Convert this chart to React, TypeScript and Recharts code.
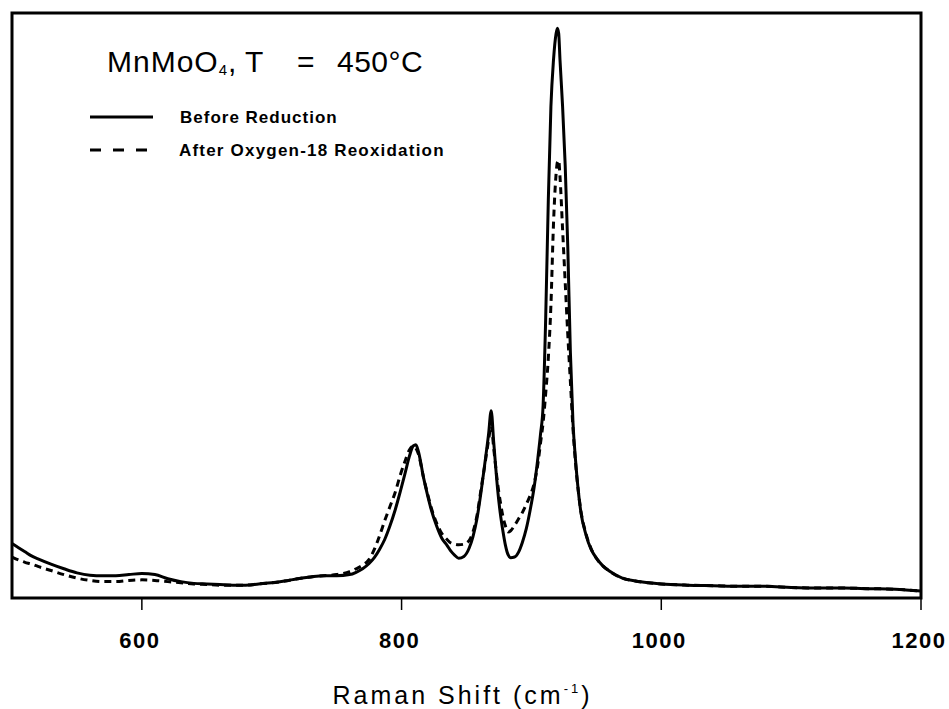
import { Line, LineChart, ReferenceArea, XAxis, YAxis } from "recharts";

// Raman shift (cm-1) sample points
const wavenumbers = [
  500, 505, 510, 515, 520, 530, 540, 550, 560, 570,
  580, 590, 600, 610, 620, 630, 640, 650, 660, 670,
  680, 690, 700, 710, 720, 730, 740, 750, 760, 765,
  770, 775, 779, 783, 787, 791, 795, 799, 803, 806,
  809, 811, 813, 817, 820, 823, 827, 831, 835, 838,
  841, 844, 848, 852, 855, 858, 861, 864, 867, 869,
  871, 874, 876, 878, 880, 882, 884, 887, 890, 893,
  896, 899, 902, 905, 907, 909, 911, 913, 915, 917,
  919, 920, 921, 922, 924, 926, 928, 930, 932, 934,
  936, 938, 942, 946, 950, 955, 960, 970, 980, 990,
  1000, 1020, 1040, 1060, 1080, 1100, 1120, 1140, 1160, 1180, 1200,
];

// intensity, arbitrary units (0 = bottom of frame, 100 = top)
const beforeReduction = [
  9.3, 8.6, 7.9, 7.2, 6.7, 5.8, 5.0, 4.3, 3.9, 3.8,
  3.8, 4.0, 4.2, 4.0, 3.3, 2.8, 2.5, 2.4, 2.3, 2.2,
  2.2, 2.4, 2.6, 2.9, 3.3, 3.6, 3.8, 3.8, 4.0, 4.4,
  5.0, 5.9, 6.9, 8.3, 10.0, 12.3, 15.0, 18.2, 21.6, 24.2,
  26.0, 26.2, 25.0, 20.5, 17.6, 15.0, 12.3, 10.2, 9.0, 8.0,
  7.3, 6.8, 7.1, 8.5, 10.5, 13.5, 17.8, 22.8, 28.0, 32.0,
  26.5, 18.5, 14.5, 11.5, 9.0, 7.4, 6.9, 7.0, 7.8, 9.5,
  11.8, 15.0, 18.8, 24.0, 28.0, 33.0, 48.0, 68.0, 84.0, 92.0,
  96.5, 97.4, 96.5, 92.0, 84.0, 74.0, 60.0, 42.0, 30.0, 23.5,
  18.5, 14.8, 10.8, 8.3, 6.8, 5.5, 4.6, 3.4, 2.9, 2.6,
  2.4, 2.2, 2.1, 2.0, 2.0, 1.8, 1.7, 1.7, 1.6, 1.5, 1.2,
];

const afterReoxidation = [
  7.0, 6.5, 6.1, 5.8, 5.4, 4.7, 4.0, 3.4, 3.0, 2.8,
  2.8, 3.0, 3.1, 3.0, 2.8, 2.6, 2.4, 2.3, 2.2, 2.2,
  2.2, 2.4, 2.6, 2.9, 3.3, 3.6, 3.8, 4.0, 4.5, 5.0,
  5.6, 6.6, 8.3, 10.6, 13.2, 15.6, 18.0, 21.0, 23.6, 25.3,
  26.0, 25.6, 24.6, 20.5, 17.8, 15.3, 12.8, 11.0, 10.0, 9.4,
  9.2, 9.1, 9.2, 9.8, 11.3, 14.0, 18.3, 22.6, 27.0, 29.5,
  25.5, 19.5, 16.5, 14.0, 12.3, 11.3, 11.5, 12.4, 13.5, 14.6,
  16.0, 17.5, 19.5, 23.0, 26.5, 30.0, 35.0, 41.0, 50.0, 64.0,
  72.5, 74.5, 74.8, 72.0, 63.0, 54.0, 45.0, 37.0, 29.0, 23.0,
  18.5, 15.0, 11.0, 8.4, 6.8, 5.5, 4.6, 3.4, 2.9, 2.6,
  2.4, 2.2, 2.1, 2.0, 2.0, 1.8, 1.7, 1.7, 1.6, 1.5, 1.2,
];

const xTicks = [600, 800, 1000, 1200];

const data = wavenumbers.map((w, i) => ({
  w,
  before: beforeReduction[i],
  after: afterReoxidation[i],
}));

const FONT = '"Liberation Sans", Arial, Helvetica, sans-serif';

function AxisTitle(props: any) {
  const vb = props.viewBox || { x: 12, y: 598, width: 909 };
  return (
    <text
      x={vb.x + vb.width / 2 - 4}
      y={vb.y + 106}
      textAnchor="middle"
      fontFamily={FONT}
      fontSize={25}
      letterSpacing={3}
      fill="#000"
    >
      Raman Shift (cm
      <tspan fontSize={13} dy={-11}>
        -1
      </tspan>
      <tspan dy={11}>)</tspan>
    </text>
  );
}

function TitleAndLegend() {
  return (
    <svg
      width={470}
      height={175}
      style={{ position: "absolute", left: 0, top: 0, pointerEvents: "none" }}
    >
      <g fontFamily={FONT} fill="#000">
        <text x={107} y={72} fontSize={30} letterSpacing={1}>
          MnMoO
          <tspan fontSize={15} dy={3}>
            4
          </tspan>
          <tspan dy={-3}>,</tspan>
        </text>
        <text x={245} y={72} fontSize={30}>
          T
        </text>
        <text x={297} y={72} fontSize={30}>
          =
        </text>
        <text x={337} y={72} fontSize={30} letterSpacing={0.5}>
          450°C
        </text>
        <line x1={90} x2={153} y1={117} y2={117} stroke="#000" strokeWidth={3} />
        <text x={180} y={123} fontSize={17} fontWeight="bold" letterSpacing={1}>
          Before Reduction
        </text>
        <line
          x1={90}
          x2={150}
          y1={150}
          y2={150}
          stroke="#000"
          strokeWidth={3}
          strokeDasharray="11 12"
        />
        <text x={179} y={156} fontSize={17} fontWeight="bold" letterSpacing={1.2}>
          After Oxygen-18 Reoxidation
        </text>
      </g>
    </svg>
  );
}

export default function App() {
  return (
    <div
      style={{
        position: "absolute",
        left: 0,
        top: 0,
        width: 949,
        height: 709,
        background: "#fff",
      }}
    >
      <LineChart
        width={949}
        height={709}
        data={data}
        margin={{ top: 13, right: 28, bottom: 51, left: 12 }}
      >
        <XAxis
          dataKey="w"
          type="number"
          domain={[500, 1200]}
          ticks={xTicks}
          height={60}
          axisLine={false}
          tickLine={{ stroke: "#000", strokeWidth: 1.5 }}
          tickSize={12}
          tickMargin={22}
          tick={{
            fill: "#000",
            fontSize: 22,
            fontWeight: "bold",
            fontFamily: FONT,
            letterSpacing: 1.5,
            dx: -2,
          }}
          label={{ content: AxisTitle }}
        />
        <YAxis type="number" domain={[0, 100]} hide />
        {/* plot frame */}
        <ReferenceArea
          x1={500}
          x2={1200}
          y1={0}
          y2={100}
          fill="none"
          fillOpacity={0}
          stroke="#000"
          strokeWidth={3}
          strokeOpacity={1}
          ifOverflow="visible"
        />
        <Line
          dataKey="after"
          type="monotone"
          stroke="#000"
          strokeWidth={3}
          strokeDasharray="7 5"
          dot={false}
          isAnimationActive={false}
        />
        <Line
          dataKey="before"
          type="monotone"
          stroke="#000"
          strokeWidth={3}
          dot={false}
          isAnimationActive={false}
        />
      </LineChart>
      <TitleAndLegend />
    </div>
  );
}
